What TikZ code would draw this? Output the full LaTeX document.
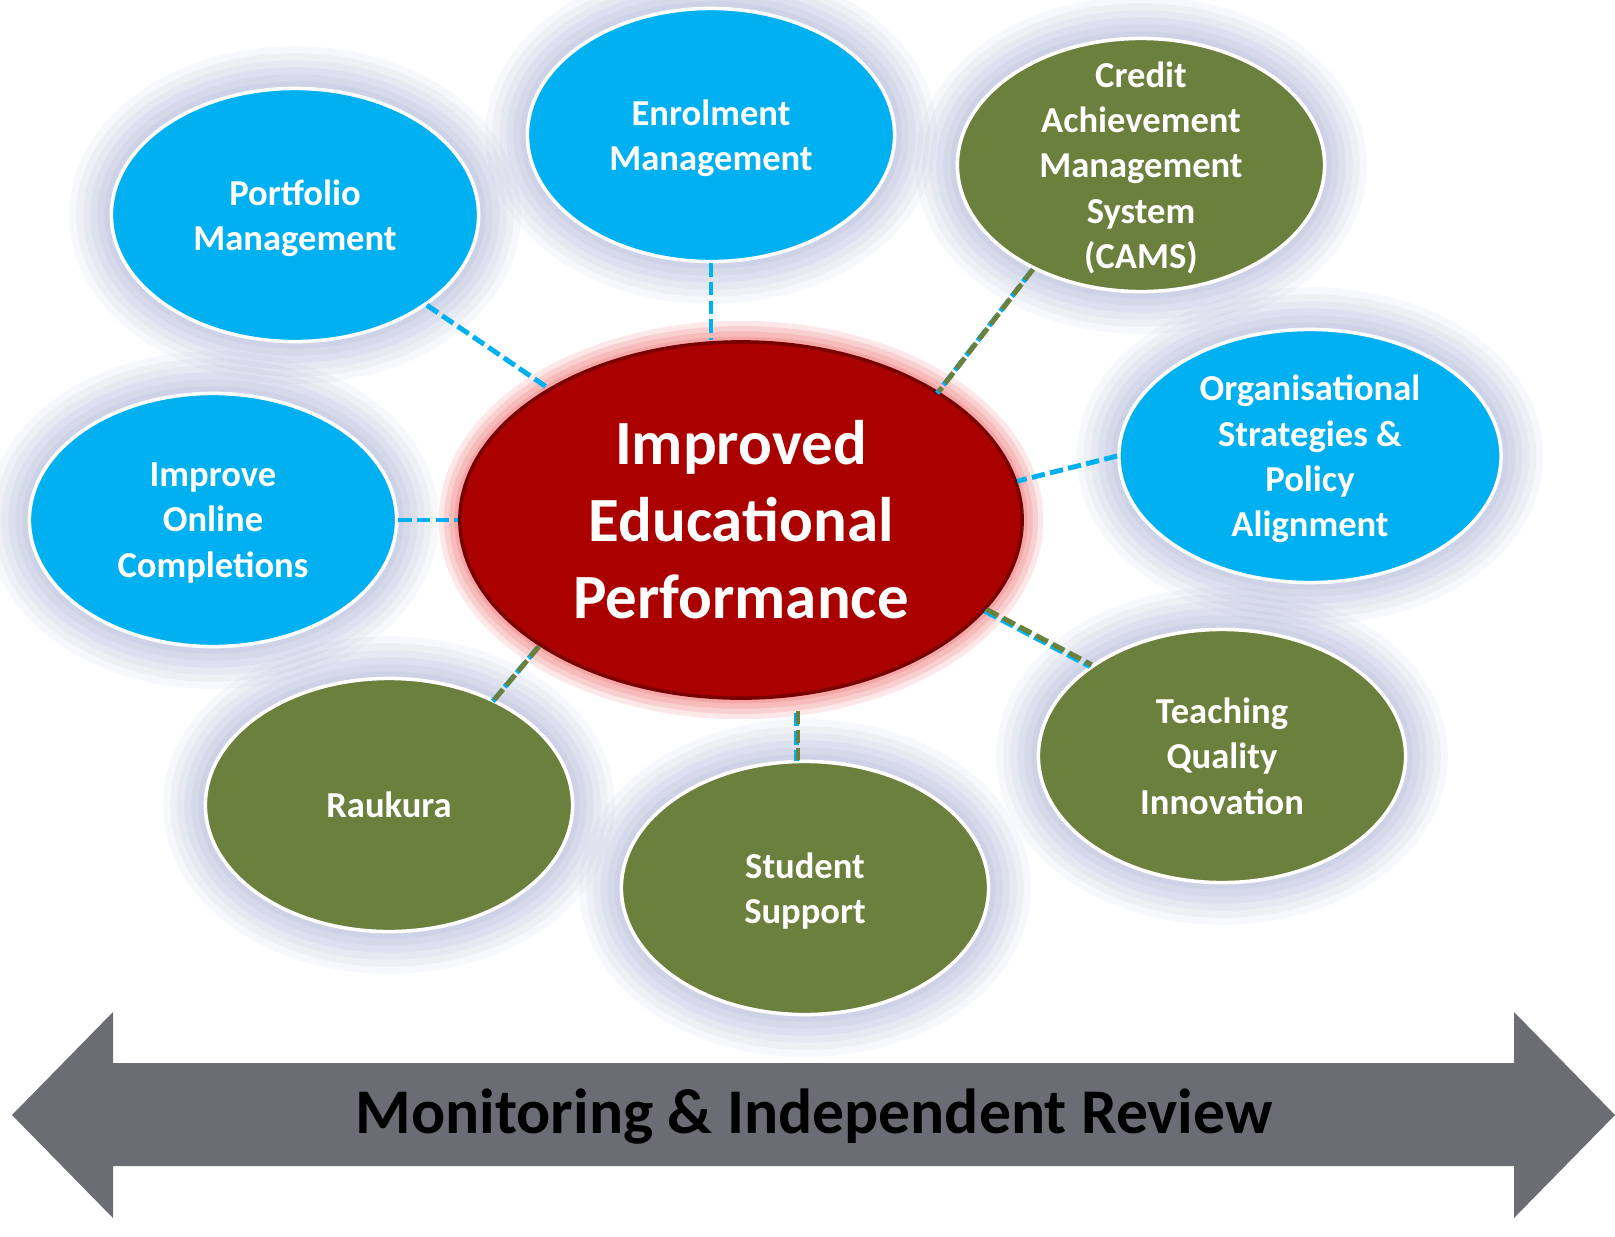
\documentclass[tikz,border=0pt]{standalone}
\usepackage{fontspec}
\setmainfont{Carlito}
\usepackage{xcolor}
\usepackage{tikz}
\usetikzlibrary{shapes.geometric}
\definecolor{nodeblue}{HTML}{00B0F0}
\definecolor{nodegreen}{HTML}{6A803C}
\definecolor{hubred}{HTML}{AA0000}
\definecolor{hubedge}{HTML}{780000}
\definecolor{haze}{HTML}{7E8BC0}
\definecolor{redhaze}{HTML}{F06868}
\definecolor{bandgray}{HTML}{6C6D74}
\tikzset{
  halo/.style={preaction={draw=#1, line width=24pt, draw opacity=0.06},
    preaction={draw=#1, line width=20pt, draw opacity=0.07},
    preaction={draw=#1, line width=16pt, draw opacity=0.07},
    preaction={draw=#1, line width=12pt, draw opacity=0.08},
    preaction={draw=#1, line width=8pt, draw opacity=0.08},
    preaction={draw=#1, line width=4pt, draw opacity=0.08}},
  redhalo/.style={preaction={draw=redhaze, line width=12pt, draw opacity=0.15},
    preaction={draw=redhaze, line width=9pt, draw opacity=0.18},
    preaction={draw=redhaze, line width=6pt, draw opacity=0.2},
    preaction={draw=redhaze, line width=3pt, draw opacity=0.25}},
  topic/.style={ellipse, draw=white, line width=1pt, halo=haze, text=white, align=center,
    font=\fontsize{10.4}{12.9}\selectfont\bfseries, text depth=0pt,
    minimum width=3.67cm, minimum height=2.53cm, inner xsep=0pt, inner ysep=-10pt},
  bluetopic/.style={topic, fill=nodeblue},
  greentopic/.style={topic, fill=nodegreen},
  hub/.style={ellipse, draw=hubedge, line width=1pt, fill=hubred, redhalo, text=white, align=center,
    font=\fontsize{17.9}{21.9}\selectfont\bfseries,
    minimum width=5.62cm, minimum height=3.56cm, inner sep=0pt},
  bluelink/.style={draw=nodeblue, line width=1.4pt, dash pattern=on 3.8pt off 1.5pt},
  greenlink/.style={draw=nodegreen, line width=1.4pt, dash pattern=on 3.8pt off 1.5pt,
    preaction={draw=nodeblue, line width=1.4pt, dash pattern=on 3.8pt off 1.5pt,
      transform canvas={shift={(-0.5pt,-0.5pt)}}}}
}

\begin{document}
\begin{tikzpicture}[x=0.01cm, y=-0.01cm]
  \fill[white] (0,0) rectangle (1615,1236);
  \useasboundingbox (0,0) rectangle (1615,1236);
  % review band
  \fill[bandgray] (12,1115) -- (113,1012) -- (113,1063) -- (1514,1063) -- (1514,1012)
    -- (1615,1115) -- (1514,1218) -- (1514,1166) -- (113,1166) -- (113,1218) -- cycle;
  \node[font=\fontsize{18.1}{22}\selectfont\bfseries] (review) at (814,1117) {Monitoring \& Independent Review};
  % topics
  \node[bluetopic] (portfolio) at (295,215) {Portfolio\\Management};
  \node[bluetopic] (enrol) at (711,135) {Enrolment\\Management};
  \node[greentopic] (cams) at (1141,165) {Credit\\Achievement\\Management\\System\\(CAMS)};
  \node[bluetopic, minimum width=3.82cm] (orgstrat) at (1310,456) {Organisational\\Strategies \&\\Policy\\Alignment};
  \node[bluetopic] (online) at (213,520) {Improve\\Online\\Completions};
  \node[greentopic] (raukura) at (389,805) {Raukura};
  \node[greentopic] (student) at (805,888) {Student\\Support};
  \node[greentopic] (teaching) at (1222,756) {Teaching\\Quality\\Innovation};
  \node[hub] (hub) at (741,520) {Improved\\Educational\\Performance};
  % links
  \coordinate (studtop) at (798,711);
  \draw[bluelink] (portfolio) -- (hub);
  \draw[bluelink] (enrol.south) -- (enrol.south |- hub.north);
  \draw[greenlink] (cams.224) -- (hub.33);
  \draw[bluelink] (orgstrat.west) -- (hub.8);
  \draw[bluelink] (online.east) -- (hub.west);
  \draw[greenlink] (raukura.45) -- (hub.212);
  \draw[greenlink] (studtop) -- (studtop |- student.north);
  \draw[greenlink] (hub.340) -- (teaching.145);
\end{tikzpicture}
\end{document}
